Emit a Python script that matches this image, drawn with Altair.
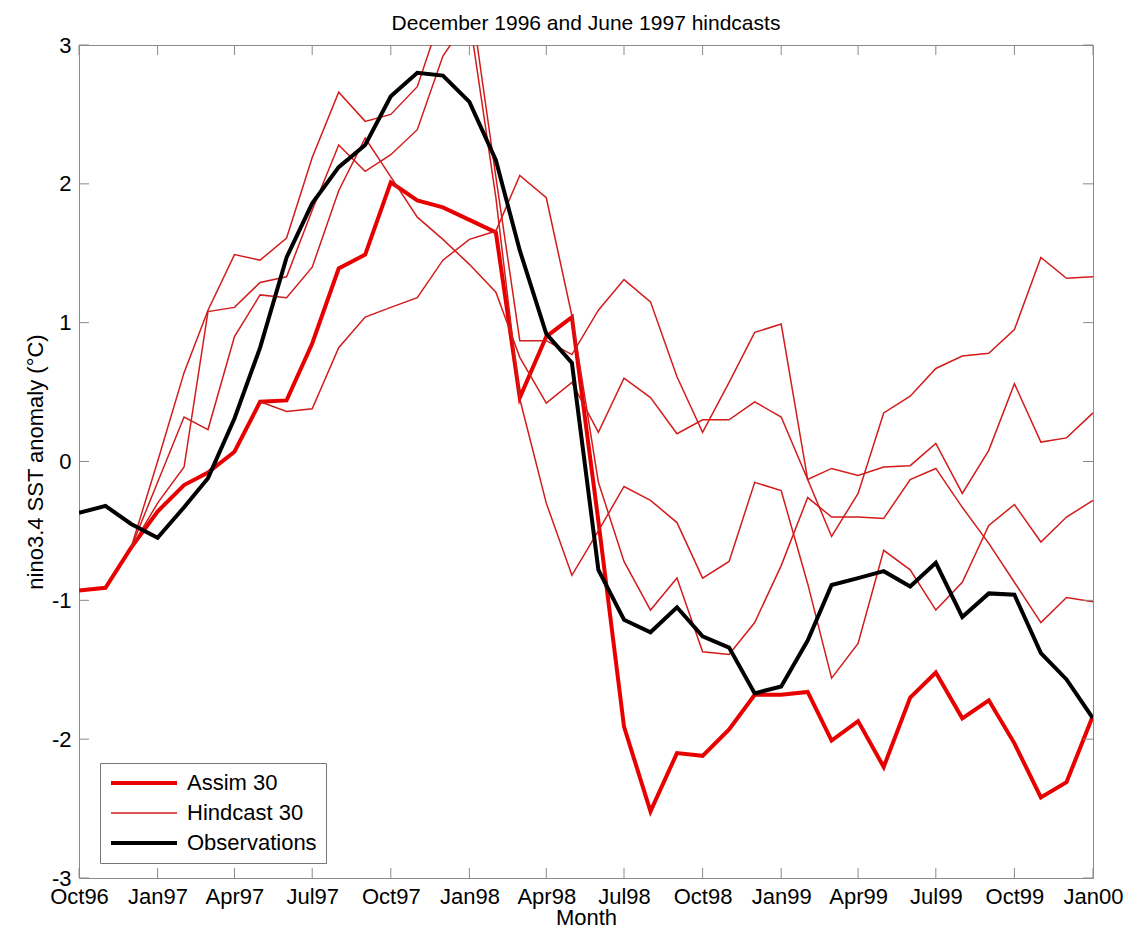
import altair as alt
import pandas as pd

months = pd.date_range("1996-10-01", "2000-01-01", freq="MS").strftime("%Y-%m-%d").tolist()

kinds = ["Assim 30", "Hindcast 30", "Observations"]
kind_colors = ["#e80000", "#d21c1c", "#000000"]

assim = [-0.93, -0.91, -0.62, -0.36, -0.17, -0.08, 0.07, 0.43, 0.44, 0.85,
         1.39, 1.49, 2.01, 1.88, 1.83, 1.74, 1.65, 0.46, 0.90, 1.04,
         -0.43, -1.91, -2.52, -2.10, -2.12, -1.93, -1.68, -1.68, -1.66, -2.01,
         -1.87, -2.20, -1.70, -1.52, -1.85, -1.72, -2.03, -2.42, -2.31, -1.83]

obs = [-0.37, -0.32, -0.45, -0.55, -0.33, -0.12, 0.31, 0.82, 1.47, 1.86,
       2.12, 2.28, 2.63, 2.80, 2.78, 2.59, 2.17, 1.52, 0.92, 0.71,
       -0.78, -1.14, -1.23, -1.05, -1.26, -1.34, -1.67, -1.62, -1.29, -0.89,
       -0.84, -0.79, -0.90, -0.73, -1.12, -0.95, -0.96, -1.38, -1.57, -1.85]

hind_a = [None, None, -0.62, 0.00, 0.64, 1.09, 1.49, 1.45, 1.61, 2.19,
          2.66, 2.45, 2.50, 2.70, 3.25, 3.40, 2.05, 0.87, 0.87, 0.77,
          1.09, 1.31, 1.15, 0.61, 0.21, 0.57, 0.93, 0.99, -0.13, -0.54,
          -0.23, 0.35, 0.47, 0.67, 0.76, 0.78, 0.95, 1.47, 1.32, 1.33]

hind_b = [None, None, -0.62, -0.30, -0.04, 1.08, 1.11, 1.29, 1.33, 1.81,
          2.28, 2.09, 2.21, 2.39, 2.92, 3.20, 1.90, 0.45, -0.30, -0.82,
          -0.50, -0.18, -0.28, -0.44, -0.84, -0.72, -0.15, -0.21, -0.88, -1.56,
          -1.31, -0.64, -0.78, -1.07, -0.87, -0.46, -0.31, -0.58, -0.40, -0.28]

hind_c = [None, None, -0.62, -0.15, 0.32, 0.23, 0.90, 1.20, 1.18, 1.40,
          1.95, 2.33, 2.05, 1.76, 1.60, 1.42, 1.22, 0.75, 0.42, 0.57,
          0.21, 0.60, 0.46, 0.20, 0.30, 0.30, 0.43, 0.32, -0.13, -0.05,
          -0.10, -0.04, -0.03, 0.13, -0.23, 0.08, 0.56, 0.14, 0.17, 0.35]

hind_d = [None, None, None, None, None, None, None, 0.43, 0.36, 0.38,
          0.82, 1.04, 1.11, 1.18, 1.45, 1.60, 1.66, 2.06, 1.90, 1.05,
          -0.15, -0.72, -1.07, -0.84, -1.37, -1.39, -1.16, -0.75, -0.26, -0.40,
          -0.40, -0.41, -0.13, -0.05, -0.33, -0.59, -0.87, -1.16, -0.98, -1.01]

x_ticks = ["1996-10-01", "1997-01-01", "1997-04-01", "1997-07-01", "1997-10-01",
           "1998-01-01", "1998-04-01", "1998-07-01", "1998-10-01", "1999-01-01",
           "1999-04-01", "1999-07-01", "1999-10-01", "2000-01-01"]
y_ticks = [-3, -2, -1, 0, 1, 2, 3]

series = [("assim", "Assim 30", assim), ("obs", "Observations", obs),
          ("hind_a", "Hindcast 30", hind_a), ("hind_b", "Hindcast 30", hind_b),
          ("hind_c", "Hindcast 30", hind_c), ("hind_d", "Hindcast 30", hind_d)]
rows = []
for run, kind, vals in series:
    for m, v in zip(months, vals):
        if v is not None:
            rows.append({"month": m, "value": v, "run": run, "kind": kind})
df = pd.DataFrame(rows)

W, H = 1014, 833
FONT = "Liberation Sans"
GRAY = "#8a8a8a"
TL = 10


def dt(s):
    y, m, d = (int(p) for p in s.split("-"))
    return alt.DateTime(year=y, month=m, date=d, utc=True)


xscale = alt.Scale(type="utc", domain=[dt(months[0]), dt(months[-1])])
yscale = alt.Scale(domain=[-3, 3], nice=False, zero=False)

xaxis = alt.Axis(values=[dt(t) for t in x_ticks], format="%b%y", labelAngle=0,
                 ticks=False, domain=False, grid=False, labelPadding=8,
                 labelFlush=False, labelOverlap=False, title="Month", titlePadding=0)
yaxis = alt.Axis(values=y_ticks, labelExpr="'' + datum.value", ticks=False, domain=False,
                 grid=False, labelPadding=8, title="nino3.4 SST anomaly (°C)", titlePadding=4)

legend = alt.Legend(
    title=None, orient="none", legendX=21, legendY=718, direction="vertical",
    symbolType="M-3,0H3", symbolSize=484,
    symbolStrokeWidth=alt.ExprRef("datum.value == 'Hindcast 30' ? 1.5 : 4"),
    labelFontSize=22, labelFont=FONT, labelColor="black", labelLimit=400,
    strokeColor="#777777", fillColor="white", padding=9, rowPadding=8,
    symbolOffset=24, labelOffset=32,
)

base = alt.Chart(df).encode(
    x=alt.X("month:T", scale=xscale, axis=xaxis, title="Month"),
    y=alt.Y("value:Q", scale=yscale, axis=yaxis, title="nino3.4 SST anomaly (°C)"),
    color=alt.Color("kind:N", scale=alt.Scale(domain=kinds, range=kind_colors), legend=legend),
    detail="run:N",
)

assim_l = base.transform_filter(alt.datum.kind == "Assim 30").mark_line(strokeWidth=4, clip=True)
hind_l = base.transform_filter(alt.datum.kind == "Hindcast 30").mark_line(strokeWidth=1.5, clip=True)
obs_l = base.transform_filter(alt.datum.kind == "Observations").mark_line(strokeWidth=4, clip=True)

xt = alt.Chart(pd.DataFrame({"tick": x_ticks}))
yt = alt.Chart(pd.DataFrame({"v": y_ticks}))
tx = alt.X("tick:T", scale=xscale, axis=xaxis, title="Month")
ty = alt.Y("v:Q", scale=yscale, axis=yaxis, title="nino3.4 SST anomaly (°C)")
ticks_bottom = xt.mark_rule(color=GRAY, strokeWidth=1).encode(x=tx, y=alt.value(H), y2=alt.value(H - TL))
ticks_top = xt.mark_rule(color=GRAY, strokeWidth=1).encode(x=tx, y=alt.value(0), y2=alt.value(TL))
ticks_left = yt.mark_rule(color=GRAY, strokeWidth=1).encode(y=ty, x=alt.value(0), x2=alt.value(TL))
ticks_right = yt.mark_rule(color=GRAY, strokeWidth=1).encode(y=ty, x=alt.value(W - TL), x2=alt.value(W))

chart = alt.layer(assim_l, hind_l, obs_l, ticks_bottom, ticks_top, ticks_left, ticks_right).properties(
    width=W, height=H,
    title=alt.Title("December 1996 and June 1997 hindcasts", fontSize=21, fontWeight="normal",
                    font=FONT, color="black", anchor="middle", offset=0, frame="group"),
    autosize=alt.AutoSizeParams(type="none"),
    padding={"left": 71, "top": 37, "right": 32, "bottom": 54},
).configure_view(stroke=GRAY, strokeWidth=1).configure_axis(
    labelFont=FONT, labelFontSize=22, labelColor="black",
    titleFont=FONT, titleFontSize=22, titleFontWeight="normal", titleColor="black",
)

chart.save("out.html", embed_options={"renderer": "svg", "actions": False})
